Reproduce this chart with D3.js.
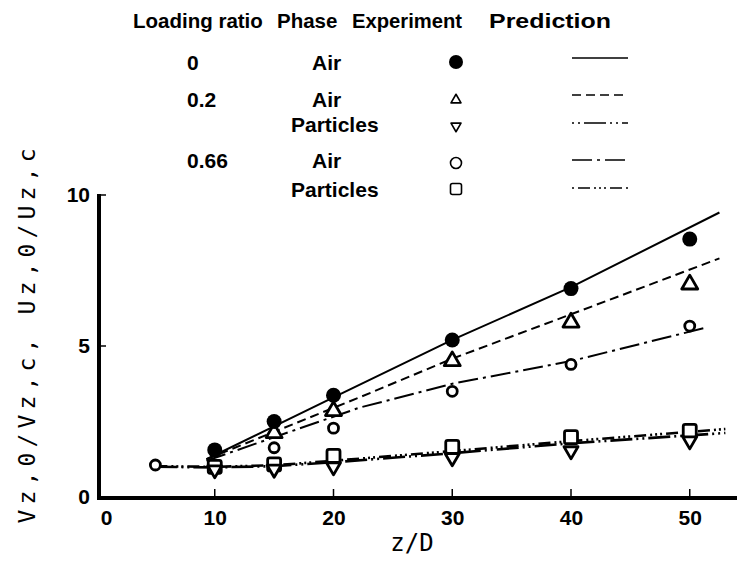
<!DOCTYPE html>
<html><head><meta charset="utf-8">
<script src="https://cdn.jsdelivr.net/npm/d3@7"></script>
<style>
html,body{margin:0;padding:0;background:#fff;}
svg{display:block;}
</style></head>
<body>
<svg id="chart" width="737" height="564"></svg>
<script>
// ---------- data ----------
const xTicks = [0, 10, 20, 30, 40, 50];
const yTicks = [0, 5, 10];

const loadingRatios = ["0", "0.2", "", "0.66", ""];
const phases = ["Air", "Air", "Particles", "Air", "Particles"];
const seriesKeys = ["air0", "air02", "part02", "air066", "part066"];

// experiments (z/D, value)
const air0X = [10, 15, 20, 30, 40, 50];
const air0Y = [1.56, 2.5, 3.37, 5.2, 6.9, 8.54];
const air02X = [15, 20, 30, 40, 50];
const air02Y = [2.12, 2.85, 4.5, 5.78, 7.04];
const part02X = [10, 15, 20, 30, 40, 50];
const part02Y = [0.9, 0.92, 1.0, 1.3, 1.53, 1.86];
const air066X = [5, 15, 20, 30, 40, 50];
const air066Y = [1.06, 1.63, 2.28, 3.5, 4.39, 5.66];
const part066X = [10, 15, 20, 30, 40, 50];
const part066Y = [1.0, 1.08, 1.36, 1.66, 1.98, 2.19];

// predictions
const predAir0X = [9.3, 20, 30, 40, 52.5];
const predAir0Y = [1.25, 3.3, 5.2, 6.95, 9.42];
const predAir02X = [9.3, 22.2, 30, 40, 52.5];
const predAir02Y = [1.25, 3.3, 4.58, 6.05, 7.9];
const predPart02X = [5, 10, 15, 20, 30, 40, 53];
const predPart02Y = [1.0, 0.98, 1.02, 1.15, 1.45, 1.78, 2.12];
const predAir066X = [9.3, 22.2, 30, 40, 51.3];
const predAir066Y = [1.2, 2.96, 3.75, 4.5, 5.6];
const predPart066X = [5, 10, 15, 20, 30, 40, 53];
const predPart066Y = [1.02, 1.0, 1.05, 1.2, 1.52, 1.85, 2.25];

// ---------- setup ----------
const svg = d3.select("#chart");
const x = d3.scaleLinear().domain([0, 54]).range([96, 737.25]);
const y = d3.scaleLinear().domain([0, 10]).range([497, 195]);

const zip = (xs, ys) => xs.map((v, i) => [v, ys[i]]);

const styles = {
  air0:    {dash: null,                   sym: "fcircle"},
  air02:   {dash: "9,5",                  sym: "tri"},
  part02:  {dash: "22,4,2,4,2,4",         sym: "tridown"},
  air066:  {dash: "20,5,3,5",             sym: "ocircle"},
  part066: {dash: "12,4,2,3,2,3,2,4",     sym: "square"}
};
const exper = {
  air0: zip(air0X, air0Y), air02: zip(air02X, air02Y), part02: zip(part02X, part02Y),
  air066: zip(air066X, air066Y), part066: zip(part066X, part066Y)
};
const preds = {
  air0: zip(predAir0X, predAir0Y), air02: zip(predAir02X, predAir02Y),
  part02: zip(predPart02X, predPart02Y), air066: zip(predAir066X, predAir066Y),
  part066: zip(predPart066X, predPart066Y)
};

// ---------- axes ----------
const bold = "'Liberation Sans', Arial, Helvetica, sans-serif";
const mono = "'DejaVu Sans Mono', monospace";

const gx = svg.append("g").attr("transform", "translate(0,498)")
  .call(d3.axisBottom(x).tickValues(xTicks).tickSize(0).tickPadding(12));
gx.select(".domain").remove();
gx.selectAll("text").attr("font-family", bold).attr("font-weight", "bold")
  .attr("font-size", 21).attr("fill", "#000");
gx.selectAll(".tick").filter(d => d === 0).select("text").attr("dx", 10);

// x inner ticks
svg.append("g").selectAll("line").data(xTicks.filter(d => d > 0)).join("line")
  .attr("x1", d => x(d)).attr("x2", d => x(d)).attr("y1", 497).attr("y2", 489)
  .attr("stroke", "#000").attr("stroke-width", 1.5);

const gy = svg.append("g").attr("transform", "translate(99,0)")
  .call(d3.axisLeft(y).tickValues(yTicks).tickSize(0).tickPadding(9));
gy.select(".domain").remove();
gy.selectAll("text").attr("font-family", bold).attr("font-weight", "bold")
  .attr("font-size", 21).attr("fill", "#000");
svg.append("g").selectAll("line").data(yTicks.filter(d => d > 0)).join("line")
  .attr("x1", 99).attr("x2", 106).attr("y1", d => y(d)).attr("y2", d => y(d))
  .attr("stroke", "#000").attr("stroke-width", 1.5);

// axis lines
svg.append("line").attr("x1", 99).attr("x2", 99).attr("y1", y(10) - 1).attr("y2", 500)
  .attr("stroke", "#000").attr("stroke-width", 4);
svg.append("line").attr("x1", 97).attr("x2", 737).attr("y1", 498).attr("y2", 498)
  .attr("stroke", "#000").attr("stroke-width", 4);

// axis titles
svg.append("text").attr("x", 412).attr("y", 551).attr("text-anchor", "middle")
  .attr("font-family", mono).attr("font-size", 24).attr("fill", "#000").text("z/D");
svg.append("text").attr("transform", "translate(35,336) rotate(-90)")
  .attr("text-anchor", "middle").attr("font-family", mono).attr("font-size", 23)
  .attr("textLength", 375).attr("lengthAdjust", "spacing").attr("fill", "#000")
  .text("Vz,0/Vz,c, Uz,0/Uz,c");

// ---------- prediction lines ----------
const line = d3.line().x(d => x(d[0])).y(d => y(d[1]));
svg.append("g").selectAll("path").data(seriesKeys).join("path")
  .attr("d", k => line(preds[k])).attr("fill", "none").attr("stroke", "#000")
  .attr("stroke-width", k => k.startsWith("part") ? 2.6 : 2)
  .attr("stroke-dasharray", k => styles[k].dash);

// ---------- symbols ----------
function drawSym(g, type, cx, cy, big) {
  const sw = big ? 2.8 : 1.6;
  if (type === "fcircle") {
    g.append("circle").attr("cx", cx).attr("cy", cy).attr("r", big ? 7.5 : 7).attr("fill", "#000");
  } else if (type === "ocircle") {
    g.append("circle").attr("cx", cx).attr("cy", cy).attr("r", big ? 5 : 5.5)
      .attr("fill", "#fff").attr("stroke", "#000").attr("stroke-width", sw);
  } else if (type === "tri" || type === "tridown") {
    const side = big ? (type === "tri" ? 16 : 14) : 10;
    const area = Math.sqrt(3) / 4 * side * side;
    g.append("path").attr("d", d3.symbol(d3.symbolTriangle, area)())
      .attr("transform", `translate(${cx},${cy})` + (type === "tridown" ? " rotate(180)" : ""))
      .attr("fill", "#fff").attr("stroke", "#000").attr("stroke-width", sw).attr("stroke-linejoin", "round");
  } else if (type === "square") {
    const s = big ? 13 : 11;
    g.append("rect").attr("x", cx - s / 2).attr("y", cy - s / 2).attr("width", s).attr("height", s)
      .attr("rx", 2).attr("fill", "#fff").attr("stroke", "#000").attr("stroke-width", sw);
  }
}
const gm = svg.append("g");
["air066", "air02", "part066", "part02", "air0"].forEach(k => {
  exper[k].forEach(d => drawSym(gm, styles[k].sym, x(d[0]), y(d[1]), true));
});

// ---------- legend ----------
const lg = svg.append("g").attr("font-family", bold).attr("font-weight", "bold")
  .attr("font-size", 20.5).attr("fill", "#000");
const headers = [["Loading ratio", 133, null], ["Phase", 277, null],
                 ["Experiment", 352, 110], ["Prediction", 489, 122]];
lg.selectAll("text.h").data(headers).join("text").attr("class", "h")
  .attr("x", d => d[1]).attr("y", 28)
  .attr("textLength", d => d[2]).attr("lengthAdjust", "spacingAndGlyphs")
  .text(d => d[0]);

const rowBase = [70, 107, 132, 168, 197];
const rowMid = [62, 100, 126, 163, 189];
const lineY = [58, 95, 123, 160, 188];
lg.selectAll("text.lr").data(loadingRatios).join("text").attr("class", "lr")
  .attr("x", 187).attr("y", (d, i) => rowBase[i]).attr("font-size", 21).text(d => d);
lg.selectAll("text.ph").data(phases).join("text").attr("class", "ph")
  .attr("x", d => d === "Air" ? 312 : 291).attr("y", (d, i) => rowBase[i]).attr("font-size", 21).text(d => d);

seriesKeys.forEach((k, i) => {
  drawSym(lg, styles[k].sym, 456, rowMid[i], false);
  lg.append("line").attr("x1", 572).attr("x2", 628).attr("y1", lineY[i]).attr("y2", lineY[i])
    .attr("stroke", "#000").attr("stroke-width", 1.5)
    .attr("stroke-dasharray", styles[k].dash)
    .attr("stroke-dashoffset", k.startsWith("part") ? 26 : 0);
});
</script>
</body></html>
